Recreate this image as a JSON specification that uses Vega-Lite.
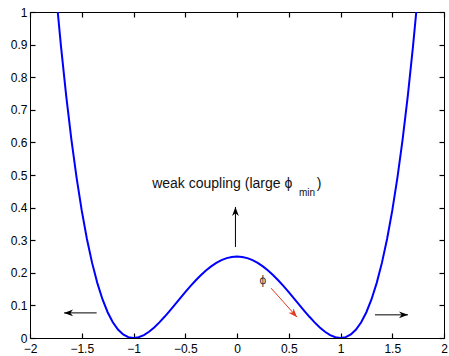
{
  "$schema": "https://vega.github.io/schema/vega-lite/v6.json",
  "width": 414,
  "height": 326,
  "autosize": {"type": "none"},
  "padding": {"left": 30, "top": 12, "right": 5, "bottom": 18},
  "background": "white",
  "config": {
    "view": {"stroke": "black", "strokeWidth": 1},
    "font": "Liberation Sans",
    "axis": {"grid": false, "domain": false, "ticks": true, "zindex": 1, "tickColor": "#000000", "tickWidth": 1.2, "tickSize": 5, "offset": -5, "labelColor": "black", "labelFontSize": 12, "labelFont": "Liberation Sans", "title": null, "format": "~g"}
  },
  "datasets": {
    "curve": [
      {"x": -1.732, "v": 1.0}, {"x": -1.7, "v": 0.893025}, {"x": -1.65, "v": 0.741752}, {"x": -1.6, "v": 0.6084},
      {"x": -1.55, "v": 0.491752}, {"x": -1.5, "v": 0.390625}, {"x": -1.45, "v": 0.303877}, {"x": -1.4, "v": 0.2304},
      {"x": -1.35, "v": 0.169127}, {"x": -1.3, "v": 0.119025}, {"x": -1.25, "v": 0.079102}, {"x": -1.2, "v": 0.0484},
      {"x": -1.15, "v": 0.026002}, {"x": -1.1, "v": 0.011025}, {"x": -1.05, "v": 0.002627}, {"x": -1.0, "v": 0.0},
      {"x": -0.95, "v": 0.002377}, {"x": -0.9, "v": 0.009025}, {"x": -0.85, "v": 0.019252}, {"x": -0.8, "v": 0.0324},
      {"x": -0.75, "v": 0.047852}, {"x": -0.7, "v": 0.065025}, {"x": -0.65, "v": 0.083377}, {"x": -0.6, "v": 0.1024},
      {"x": -0.55, "v": 0.121627}, {"x": -0.5, "v": 0.140625}, {"x": -0.45, "v": 0.159002}, {"x": -0.4, "v": 0.1764},
      {"x": -0.35, "v": 0.192502}, {"x": -0.3, "v": 0.207025}, {"x": -0.25, "v": 0.219727}, {"x": -0.2, "v": 0.2304},
      {"x": -0.15, "v": 0.238877}, {"x": -0.1, "v": 0.245025}, {"x": -0.05, "v": 0.248752}, {"x": 0.0, "v": 0.25},
      {"x": 0.05, "v": 0.248752}, {"x": 0.1, "v": 0.245025}, {"x": 0.15, "v": 0.238877}, {"x": 0.2, "v": 0.2304},
      {"x": 0.25, "v": 0.219727}, {"x": 0.3, "v": 0.207025}, {"x": 0.35, "v": 0.192502}, {"x": 0.4, "v": 0.1764},
      {"x": 0.45, "v": 0.159002}, {"x": 0.5, "v": 0.140625}, {"x": 0.55, "v": 0.121627}, {"x": 0.6, "v": 0.1024},
      {"x": 0.65, "v": 0.083377}, {"x": 0.7, "v": 0.065025}, {"x": 0.75, "v": 0.047852}, {"x": 0.8, "v": 0.0324},
      {"x": 0.85, "v": 0.019252}, {"x": 0.9, "v": 0.009025}, {"x": 0.95, "v": 0.002377}, {"x": 1.0, "v": 0.0},
      {"x": 1.05, "v": 0.002627}, {"x": 1.1, "v": 0.011025}, {"x": 1.15, "v": 0.026002}, {"x": 1.2, "v": 0.0484},
      {"x": 1.25, "v": 0.079102}, {"x": 1.3, "v": 0.119025}, {"x": 1.35, "v": 0.169127}, {"x": 1.4, "v": 0.2304},
      {"x": 1.45, "v": 0.303877}, {"x": 1.5, "v": 0.390625}, {"x": 1.55, "v": 0.491752}, {"x": 1.6, "v": 0.6084},
      {"x": 1.65, "v": 0.741752}, {"x": 1.7, "v": 0.893025}, {"x": 1.732, "v": 1.0}
    ],
    "arrows": [
      {"name": "left", "x": -1.356, "y": 0.077, "x2": -1.671, "y2": 0.077, "angle": 180, "c": "black"},
      {"name": "right", "x": 1.333, "y": 0.071, "x2": 1.652, "y2": 0.071, "angle": 0, "c": "black"},
      {"name": "up", "x": -0.015, "y": 0.279, "x2": -0.015, "y2": 0.402, "angle": 270, "c": "black"},
      {"name": "red", "x": 0.329, "y": 0.153, "x2": 0.58, "y2": 0.064, "angle": 48, "c": "#e03a1a"}
    ],
    "labels": [
      {"x": -0.82, "y": 0.46, "t": "weak coupling (large ϕ", "s": 14},
      {"x": 0.599, "y": 0.436, "t": "min", "s": 10},
      {"x": 0.77, "y": 0.46, "t": ")", "s": 14}
    ]
  },
  "resolve": {"axis": {"x": "independent", "y": "independent"}},
  "layer": [
    {
      "data": {"name": "curve"},
      "mark": {"type": "line", "color": "#0000ff", "strokeWidth": 2, "clip": true},
      "encoding": {
        "x": {"field": "x", "type": "quantitative", "scale": {"domain": [-2, 2], "nice": false, "zero": false},
              "axis": {"orient": "bottom", "values": [-2, -1.5, -1, -0.5, 0, 0.5, 1, 1.5, 2], "labelPadding": 5, "labelFlush": false}},
        "y": {"field": "v", "type": "quantitative", "scale": {"domain": [0, 1], "nice": false},
              "axis": {"orient": "left", "values": [0, 0.1, 0.2, 0.3, 0.4, 0.5, 0.6, 0.7, 0.8, 0.9, 1], "labelPadding": 3, "labelFlush": false}}
      }
    },
    {
      "data": {"name": "curve"},
      "mark": {"type": "point", "opacity": 0},
      "encoding": {
        "x": {"field": "x", "type": "quantitative",
              "axis": {"orient": "top", "labels": false, "values": [-2, -1.5, -1, -0.5, 0, 0.5, 1, 1.5, 2]}},
        "y": {"field": "v", "type": "quantitative",
              "axis": {"orient": "right", "labels": false, "values": [0, 0.1, 0.2, 0.3, 0.4, 0.5, 0.6, 0.7, 0.8, 0.9, 1]}}
      }
    },
    {
      "data": {"name": "arrows"},
      "mark": {"type": "rule", "strokeWidth": 1},
      "encoding": {
        "x": {"field": "x", "type": "quantitative", "axis": null},
        "y": {"field": "y", "type": "quantitative", "axis": null},
        "x2": {"field": "x2"},
        "y2": {"field": "y2"},
        "color": {"field": "c", "type": "nominal", "scale": null}
      }
    },
    {
      "data": {"name": "arrows"},
      "mark": {"type": "point", "filled": true, "opacity": 1, "size": 81, "shape": "M0,0 L-2,-0.75 L-1.4,0 L-2,0.75 Z"},
      "encoding": {
        "x": {"field": "x2", "type": "quantitative", "axis": null},
        "y": {"field": "y2", "type": "quantitative", "axis": null},
        "angle": {"field": "angle", "type": "quantitative", "scale": null},
        "color": {"field": "c", "type": "nominal", "scale": null}
      }
    },
    {
      "data": {"name": "labels"},
      "mark": {"type": "text", "align": "left", "baseline": "alphabetic", "font": "Liberation Sans", "color": "#111111"},
      "encoding": {
        "x": {"field": "x", "type": "quantitative", "axis": null},
        "y": {"field": "y", "type": "quantitative", "axis": null},
        "text": {"field": "t"},
        "size": {"field": "s", "type": "quantitative", "scale": null}
      }
    },
    {
      "data": {"values": [{"x": 0.251, "y": 0.178, "t": "ϕ"}]},
      "mark": {"type": "text", "align": "center", "baseline": "middle", "font": "Liberation Sans", "fontSize": 12, "color": "#333333"},
      "encoding": {
        "x": {"field": "x", "type": "quantitative", "axis": null},
        "y": {"field": "y", "type": "quantitative", "axis": null},
        "text": {"field": "t"}
      }
    }
  ]
}
